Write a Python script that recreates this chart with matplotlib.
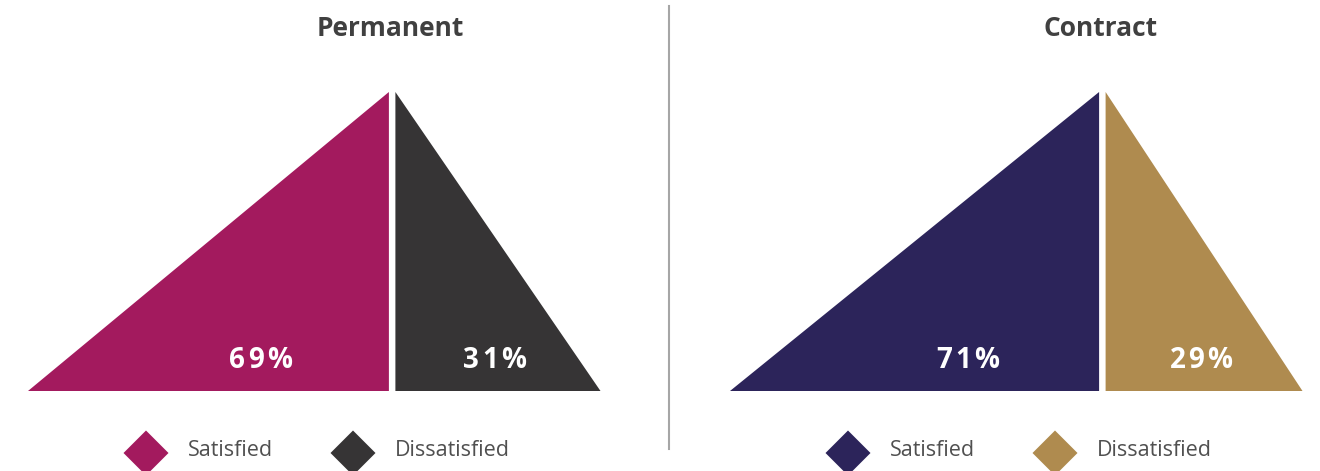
import matplotlib.pyplot as plt
from matplotlib.patches import Polygon

# survey results, share of respondents (%)
groups = ["Permanent", "Contract"]
satisfied = [69, 71]
dissatisfied = [31, 29]
legend_labels = ["Satisfied", "Dissatisfied"]
sat_colors = ["#A31A5E", "#2C245A"]
dis_colors = ["#363435", "#AF8B4F"]

plt.rcParams['font.family'] = ['Open Sans', 'DejaVu Sans']

W, H = 1320, 471
fig = plt.figure(figsize=(W / 100, H / 100), dpi=100)
ax = fig.add_axes([0, 0, 1, 1])
ax.set_xlim(0, W)
ax.set_ylim(H, 0)
ax.axis('off')
renderer = fig.canvas.get_renderer()

# layout (pixels)
left_edges = [28, 730]
base_y, apex_y = 391, 92
gap = 6.5
min_w, per_pct = 78, 4.1   # triangle width = min_w + per_pct * value


def tri_width(v):
    return min_w + per_pct * v


def spaced_text(xc, y, s, track=3.0, **kw):
    # draw a string centred on xc with extra spacing between letters
    parts = [ax.text(0, y, ch, ha='left', va='center', **kw) for ch in s]
    widths = [p.get_window_extent(renderer).width for p in parts]
    total = sum(widths) + track * (len(s) - 1)
    x = xc - total / 2
    for p, w in zip(parts, widths):
        p.set_x(x)
        x += w + track


for i, name in enumerate(groups):
    x0 = left_edges[i]
    w1 = tri_width(satisfied[i])
    w2 = tri_width(dissatisfied[i])
    split = x0 + w1
    x1 = split + gap

    # satisfied: right-angled triangle rising to the split
    ax.add_patch(Polygon([(x0, base_y), (split, apex_y), (split, base_y)],
                         closed=True, facecolor=sat_colors[i], edgecolor='none'))
    # dissatisfied: falling from the split
    ax.add_patch(Polygon([(x1, base_y), (x1, apex_y), (x1 + w2, base_y)],
                         closed=True, facecolor=dis_colors[i], edgecolor='none'))

    spaced_text(x0 + 0.645 * w1, 361, f"{satisfied[i]}%", color='white',
                fontsize=20, fontweight='bold')
    spaced_text(x1 + 0.485 * w2, 361, f"{dissatisfied[i]}%", color='white',
                fontsize=20, fontweight='bold')

    ax.text(split + gap / 2 - 2, 28, name, color='#404040', fontsize=19,
            fontweight='bold', ha='center', va='center')

    # legend: diamond + label
    legend_x = [x0 + 118, x0 + 325]
    for j, (lbl, col) in enumerate(zip(legend_labels, [sat_colors[i], dis_colors[i]])):
        cx, cy, r = legend_x[j], 453, 22.5
        ax.add_patch(Polygon([(cx - r, cy), (cx, cy - r), (cx + r, cy), (cx, cy + r)],
                             closed=True, facecolor=col, edgecolor='none'))
        ax.text(cx + 42, 451, lbl, color='#505050', fontsize=15.5,
                ha='left', va='center')

# divider between the two groups
ax.plot([669, 669], [6, 449], color='#a6a6a6', linewidth=1.5)

fig.savefig('out.png', dpi=100)
